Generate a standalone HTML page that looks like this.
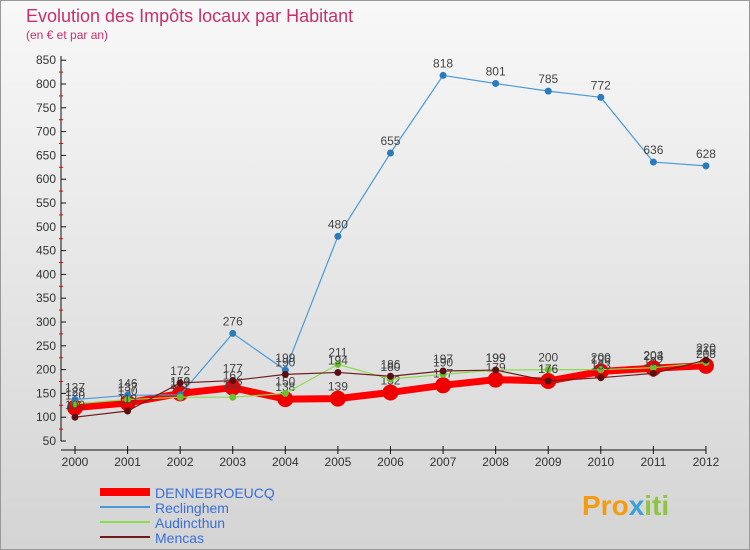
<!DOCTYPE html>
<html><head><meta charset="utf-8"><style>
body{margin:0;width:750px;height:550px;overflow:hidden;font-family:"Liberation Sans",sans-serif}
#c{position:absolute;left:0;top:0;width:748px;height:548px;border:1px solid #999;background:linear-gradient(#f8f8f8,#d4d4d4)}
</style></head><body>
<div id="c">
<svg id="s" width="750" height="550" style="position:absolute;left:-1px;top:-1px">
<text x="26" y="22" font-size="18" fill="#c8306a">Evolution des Impôts locaux par Habitant</text>
<text x="26" y="39" font-size="12" fill="#c8306a">(en € et par an)</text>
<g id="axes"></g><g id="series"></g><g id="legend"></g>
<text x="582" y="515" font-size="28" font-weight="bold" fill="#f39c12">Pro<tspan fill="#3aa0d8">x</tspan><tspan fill="#8cc63f">iti</tspan></text>
</svg></div>
<script>
const years=["2000","2001","2002","2003","2004","2005","2006","2007","2008","2009","2010","2011","2012"];
const yTicks=[50,100,150,200,250,300,350,400,450,500,550,600,650,700,750,800,850];
const names=["DENNEBROEUCQ","Reclinghem","Audincthun","Mencas"];
const dennebroeucq=[120,130,150,162,138,139,152,167,179,176,196,203,208];
const reclinghem=[137,146,147,276,199,480,655,818,801,785,772,636,628];
const audincthun=[128,137,142,142,150,211,180,190,199,200,200,204,215];
const mencas=[100,113,172,177,190,194,186,197,199,176,183,192,220];
const NS="http://www.w3.org/2000/svg";
const X=i=>75+i*52.58, Y=v=>441-(v-50)*0.476;
function mk(t,a,p){const e=document.createElementNS(NS,t);for(const k in a)e.setAttribute(k,a[k]);p.appendChild(e);return e;}
const ax=document.getElementById('axes');
let l=mk('line',{x1:61,y1:56,x2:61,y2:441,stroke:'#111'},ax);


l=mk('line',{x1:61,y1:450,x2:706,y2:450,stroke:'#111'},ax);


yTicks.forEach(v=>{mk('line',{x1:61,y1:Y(v),x2:66,y2:Y(v),stroke:'#111'},ax);
 if(v<850)mk('line',{x1:59,y1:Y(v+25),x2:63,y2:Y(v+25),stroke:'#e00'},ax);
 const t=mk('text',{x:56,y:Y(v)+4,'font-size':12,fill:'#333','text-anchor':'end'},ax);t.textContent=v;
 
 });
years.forEach((y,i)=>{mk('line',{x1:X(i),y1:446,x2:X(i),y2:454,stroke:'#111'},ax);
 const t=mk('text',{x:X(i),y:466,'font-size':12,fill:'#333','text-anchor':'middle'},ax);t.textContent=y;
 
 });
const sg=document.getElementById('series');
const cfg=[[dennebroeucq,'#ff0000',7,8,'#ee0000'],[reclinghem,'#4a9ad8',1.2,3.5,'#2a7ac0'],[audincthun,'#8cdc50',1.2,3.5,'#6cc030'],[mencas,'#6e1c1c',1.2,3.5,'#5a1010']];
cfg.forEach((c,si)=>{const g=mk('g',{},sg);
 
 
 mk('polyline',{points:c[0].map((v,i)=>X(i)+','+Y(v)).join(' '),fill:'none',stroke:c[1],'stroke-width':c[2],'stroke-linejoin':'round'},g);
 c[0].forEach((v,i)=>{const p=mk('circle',{cx:X(i),cy:Y(v),r:c[3],fill:c[4]},g);
  
  
  const t=mk('text',{x:X(i),y:Y(v)-8,'font-size':12,fill:'#444','text-anchor':'middle'},g);t.textContent=v;
  
  });});
const lg=document.getElementById('legend');
cfg.forEach((c,i)=>{const y=492+i*15;
 const e=mk('line',{x1:100,y1:y,x2:150,y2:y,stroke:c[1],'stroke-width':i?2:8},lg);
 
 
 const t=mk('text',{x:155,y:y+6,'font-size':14,fill:'#3a6ed8'},lg);t.textContent=names[i];
 
 });
</script></body></html>
